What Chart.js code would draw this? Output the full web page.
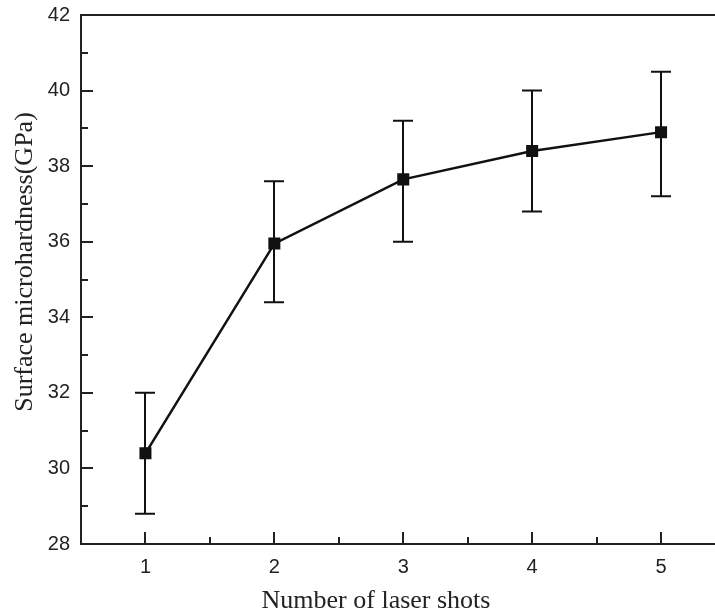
<!DOCTYPE html>
<html>
<head>
<meta charset="utf-8">
<script src="https://cdn.jsdelivr.net/npm/chart.js@4"></script>
<style>
  html, body { margin: 0; padding: 0; background: #fff; overflow: hidden; }
  #wrap { width: 715px; height: 615px; overflow: hidden; }
  #box { width: 734px; height: 615px; }
</style>
</head>
<body>
<div id="wrap"><div id="box"><canvas id="hardness"></canvas></div></div>
<script>
// laser shot count vs. surface microhardness, mean with error range
const shots    = [1, 2, 3, 4, 5];
const hardness = [30.4, 35.95, 37.65, 38.4, 38.9];
const errLow   = [28.8, 34.4, 36.0, 36.8, 37.2];
const errHigh  = [32.0, 37.6, 39.2, 40.0, 40.5];
const yTicks   = [28, 30, 32, 34, 36, 38, 40, 42];
const xTitle   = 'Number of laser shots';
const yTitle   = 'Surface microhardness(GPa)';

const INK = '#111';
const AXIS = '#222';
const SERIF = '26px "Liberation Serif", "Times New Roman", serif';

// inward tick marks (major + half-step minor), top frame line, error bars, axis titles
const frameAndErrors = {
  id: 'frameAndErrors',
  afterDatasetsDraw(chart) {
    const { ctx, chartArea: a, scales: { x, y } } = chart;
    ctx.save();

    ctx.strokeStyle = INK;
    ctx.lineWidth = 2;
    const cap = 10;
    shots.forEach((s, i) => {
      const px = Math.round(x.getPixelForValue(s));
      const top = y.getPixelForValue(errHigh[i]);
      const bot = y.getPixelForValue(errLow[i]);
      ctx.beginPath();
      ctx.moveTo(px, top); ctx.lineTo(px, bot);
      ctx.moveTo(px - cap, top); ctx.lineTo(px + cap, top);
      ctx.moveTo(px - cap, bot); ctx.lineTo(px + cap, bot);
      ctx.stroke();
    });

    ctx.strokeStyle = AXIS;
    ctx.lineWidth = 2;
    ctx.beginPath();
    ctx.moveTo(a.left - 1, a.top); ctx.lineTo(a.right + 20, a.top);
    yTicks.forEach((v, i) => {
      const py = Math.round(y.getPixelForValue(v));
      ctx.moveTo(a.left, py); ctx.lineTo(a.left + 12, py);
      if (i < yTicks.length - 1) {
        const pm = Math.round(y.getPixelForValue(v + 1));
        ctx.moveTo(a.left, pm); ctx.lineTo(a.left + 7, pm);
      }
    });
    shots.forEach(s => {
      const px = Math.round(x.getPixelForValue(s));
      ctx.moveTo(px, a.bottom); ctx.lineTo(px, a.bottom - 12);
      const pm = Math.round(x.getPixelForValue(s + 0.5));
      ctx.moveTo(pm, a.bottom); ctx.lineTo(pm, a.bottom - 7);
    });
    ctx.stroke();

    ctx.fillStyle = '#222';
    ctx.font = SERIF;
    ctx.textAlign = 'center';
    ctx.textBaseline = 'alphabetic';
    ctx.fillText(xTitle, 376, 608);
    ctx.translate(32, 262);
    ctx.rotate(-Math.PI / 2);
    ctx.fillText(yTitle, 0, 0);
    ctx.restore();
  }
};

new Chart(document.getElementById('hardness'), {
  type: 'line',
  data: {
    datasets: [{
      data: shots.map((s, i) => ({ x: s, y: hardness[i] })),
      borderColor: INK,
      borderWidth: 2.5,
      pointStyle: 'rect',
      pointRadius: 8.5,
      pointBackgroundColor: INK,
      pointBorderWidth: 0,
      tension: 0,
    }],
  },
  options: {
    responsive: true,
    maintainAspectRatio: false,
    animation: false,
    layout: { padding: { top: 15, right: 0, left: 0, bottom: 0 } },
    plugins: { legend: { display: false }, tooltip: { enabled: false } },
    scales: {
      x: {
        type: 'linear',
        min: 0.5,
        max: 5.5,
        afterBuildTicks: s => { s.ticks = shots.map(v => ({ value: v })); },
        afterFit: s => { s.height = 71; s.paddingLeft = 0; s.paddingRight = 0; },
        grid: { display: false, drawTicks: false },
        border: { display: true, color: AXIS, width: 2 },
        ticks: { color: '#222', padding: 11, font: { family: 'Liberation Sans, Arial', size: 20 } },
      },
      y: {
        min: 28,
        max: 42,
        afterBuildTicks: s => { s.ticks = yTicks.map(v => ({ value: v })); },
        afterFit: s => { s.width = 81; s.paddingTop = 0; s.paddingBottom = 0; },
        grid: { display: false, drawTicks: false },
        border: { display: true, color: AXIS, width: 2 },
        ticks: { color: '#222', padding: 11, font: { family: 'Liberation Sans, Arial', size: 20 } },
      },
    },
  },
  plugins: [frameAndErrors],
});
</script>
</body>
</html>
